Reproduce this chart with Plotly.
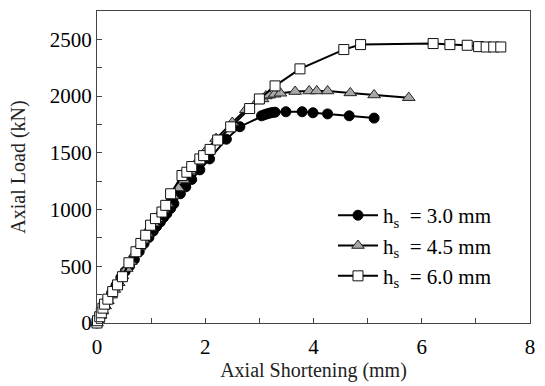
import plotly.graph_objects as go

# ---- data ----
x_30 = [0.0, 0.02, 0.05, 0.09, 0.14, 0.2, 0.27, 0.35, 0.44, 0.52, 0.6, 0.69, 0.78, 0.87, 0.96, 1.04, 1.1, 1.17, 1.23, 1.29, 1.36, 1.42, 1.54, 1.64, 1.75, 1.9, 2.08, 2.39, 2.64, 3.04, 3.09, 3.14, 3.19, 3.24, 3.29, 3.49, 3.79, 3.99, 4.26, 4.66, 5.12]
y_30 = [0, 20, 55, 100, 150, 205, 265, 330, 400, 455, 500, 560, 630, 700, 754, 810, 850, 890, 930, 964, 1010, 1052, 1139, 1200, 1265, 1350, 1446, 1620, 1730, 1826, 1835, 1843, 1850, 1855, 1858, 1862, 1862, 1853, 1843, 1826, 1806]

x_45 = [0.0, 0.02, 0.06, 0.1, 0.15, 0.2, 0.26, 0.32, 0.4, 0.47, 0.55, 0.62, 0.7, 0.78, 0.85, 0.92, 0.98, 1.04, 1.1, 1.16, 1.22, 1.3, 1.4, 1.5, 1.6, 1.72, 1.85, 2.0, 2.2, 2.5, 2.75, 2.97, 3.06, 3.12, 3.18, 3.28, 3.39, 3.66, 3.92, 4.06, 4.26, 4.68, 5.12, 5.76]
y_45 = [0, 25, 65, 105, 150, 195, 245, 295, 355, 415, 480, 540, 610, 670, 730, 790, 840, 880, 920, 960, 1000, 1050, 1120, 1190, 1260, 1340, 1420, 1510, 1625, 1767, 1880, 1957, 1975, 2001, 2008, 2016, 2025, 2040, 2045, 2045, 2045, 2028, 2010, 1986]

x_60 = [0.0, 0.01, 0.05, 0.08, 0.11, 0.14, 0.2, 0.29, 0.38, 0.47, 0.59, 0.72, 0.81, 0.9, 0.99, 1.08, 1.2, 1.27, 1.36, 1.57, 1.66, 1.75, 1.9, 1.97, 2.09, 2.23, 2.47, 2.82, 3.0, 3.29, 3.75, 4.56, 4.87, 6.21, 6.52, 6.84, 7.05, 7.19, 7.33, 7.46]
y_60 = [0, 20, 55, 90, 131, 166, 210, 277, 336, 408, 531, 628, 701, 774, 862, 920, 978, 1037, 1139, 1300, 1329, 1379, 1446, 1475, 1530, 1613, 1729, 1890, 1975, 2090, 2240, 2410, 2454, 2463, 2454, 2448, 2436, 2433, 2433, 2433]

names = ["h<sub>s</sub>  = 3.0 mm", "h<sub>s</sub>  = 4.5 mm", "h<sub>s</sub>  = 6.0 mm"]
x_ticks = [0, 2, 4, 6, 8]
y_ticks = [0, 500, 1000, 1500, 2000, 2500]

FONT = "Liberation Serif, Times New Roman, serif"

fig = go.Figure()
fig.add_trace(go.Scatter(
    x=x_30, y=y_30, mode="lines+markers", name=names[0], cliponaxis=False,
    line=dict(color="black", width=2),
    marker=dict(symbol="circle", size=10, color="black", line=dict(color="black", width=1))))
fig.add_trace(go.Scatter(
    x=x_45, y=y_45, mode="lines+markers", name=names[1], cliponaxis=False,
    line=dict(color="black", width=2),
    marker=dict(symbol="triangle-up", size=11, color="#a8a8a8", line=dict(color="#222", width=1))))
fig.add_trace(go.Scatter(
    x=x_60, y=y_60, mode="lines+markers", name=names[2], cliponaxis=False,
    line=dict(color="black", width=2),
    marker=dict(symbol="square", size=10, color="white", line=dict(color="#111", width=1))))

axis_common = dict(
    showline=True, linecolor="#444", linewidth=1, mirror=True,
    ticks="inside", ticklen=5, tickcolor="#444", tickwidth=1,
    showgrid=False, zeroline=False,
    tickfont=dict(family=FONT, size=21, color="black"),
)

fig.update_xaxes(range=[0, 8], tickvals=x_ticks, ticktext=[str(v) for v in x_ticks],
                 ticklabelstandoff=5,
                 minor=dict(ticks="inside", ticklen=5, tickcolor="#444", dtick=1, tick0=0),
                 title=dict(text="Axial Shortening (mm)", font=dict(family=FONT, size=20, color="#222"), standoff=0),
                 **axis_common)
fig.update_yaxes(range=[0, 2750], tickvals=y_ticks, ticktext=[str(v) for v in y_ticks],
                 minor=dict(ticks="inside", ticklen=5, tickcolor="#444", dtick=250, tick0=0),
                 title=dict(text="Axial Load (kN)", font=dict(family=FONT, size=20, color="#222"), standoff=18),
                 **axis_common)

fig.update_layout(
    width=545, height=386,
    margin=dict(l=97, r=10, t=10, b=63),
    plot_bgcolor="white", paper_bgcolor="white",
    font=dict(family=FONT, color="black"),
    legend=dict(x=0.545, y=0.41, xanchor="left", yanchor="top",
                bgcolor="rgba(0,0,0,0)", font=dict(family=FONT, size=21, color="black"),
                tracegroupgap=0, itemwidth=40),
    showlegend=True,
)

fig.write_html("out.html")
